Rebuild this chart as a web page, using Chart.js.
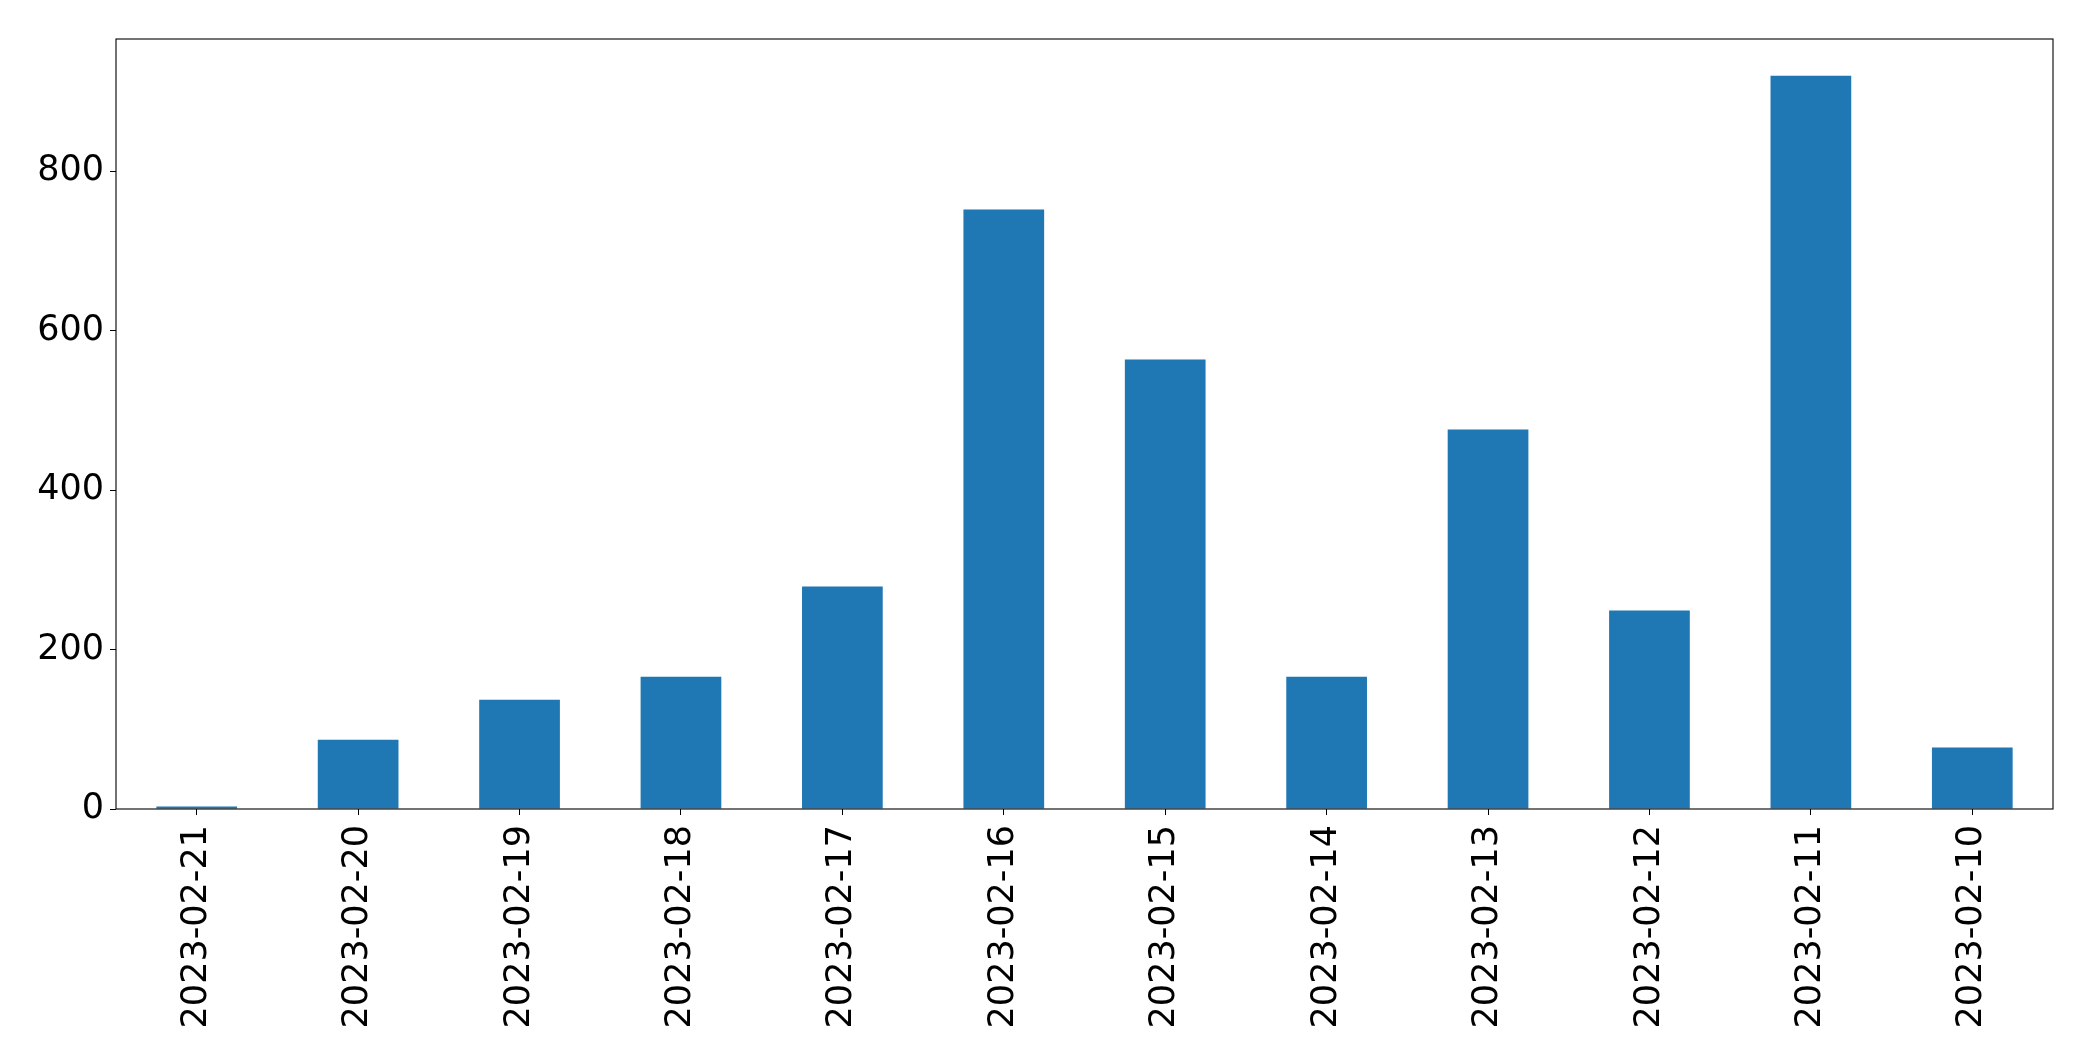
<!DOCTYPE html>
<html>
<head>
<meta charset="utf-8">
<script src="https://cdn.jsdelivr.net/npm/chart.js@4"></script>
<style>
  body { margin: 0; background: #fff; }
</style>
</head>
<body>
<canvas id="date-chart" width="2093" height="1061"></canvas>
<script>
const dates = ['2023-02-21', '2023-02-20', '2023-02-19', '2023-02-18', '2023-02-17', '2023-02-16',
               '2023-02-15', '2023-02-14', '2023-02-13', '2023-02-12', '2023-02-11', '2023-02-10'];
const counts = [3, 87, 137, 166, 279, 752, 564, 166, 476, 249, 920, 77];
const y_ticks = [0, 200, 400, 600, 800];

// box round the plot area, like matplotlib
const frame = {
  id: 'frame',
  afterDraw(chart) {
    const { ctx, chartArea: a } = chart;
    ctx.save();
    ctx.strokeStyle = '#000';
    ctx.lineWidth = 1.1;
    ctx.strokeRect(a.left, a.top, a.right - a.left, a.bottom - a.top);
    ctx.restore();
  }
};

new Chart(document.getElementById('date-chart'), {
  type: 'bar',
  data: {
    labels: dates,
    datasets: [
      {
        data: counts,
        backgroundColor: '#1f77b4',
        barPercentage: 0.5,
        categoryPercentage: 1.0,
      },
    ],
  },
  options: {
    responsive: false,
    animation: false,
    layout: { padding: { top: 39, right: 40, left: 0, bottom: 0 } },
    plugins: {
      legend: { display: false },
      tooltip: { enabled: false },
    },
    scales: {
      x: {
        grid: { offset: false, drawOnChartArea: false, drawTicks: true, tickLength: 6, color: '#000' },
        border: { display: false },
        ticks: {
          color: '#000',
          font: { family: 'DejaVu Sans', size: 35 },
          minRotation: 90,
          maxRotation: 90,
          padding: 10,
          autoSkip: false,
        },
        afterFit(scale) { scale.height = 252; },
      },
      y: {
        min: 0,
        max: 966,
        grid: { drawOnChartArea: false, drawTicks: true, tickLength: 6, color: '#000' },
        border: { display: false },
        ticks: {
          color: '#000',
          font: { family: 'DejaVu Sans', size: 35 },
          stepSize: 200,
          padding: 6,
        },
        afterBuildTicks(scale) {
          scale.ticks = y_ticks.map(v => ({ value: v }));
        },
        afterFit(scale) { scale.width = 116; },
      },
    },
  },
  plugins: [frame],
});
</script>
</body>
</html>
